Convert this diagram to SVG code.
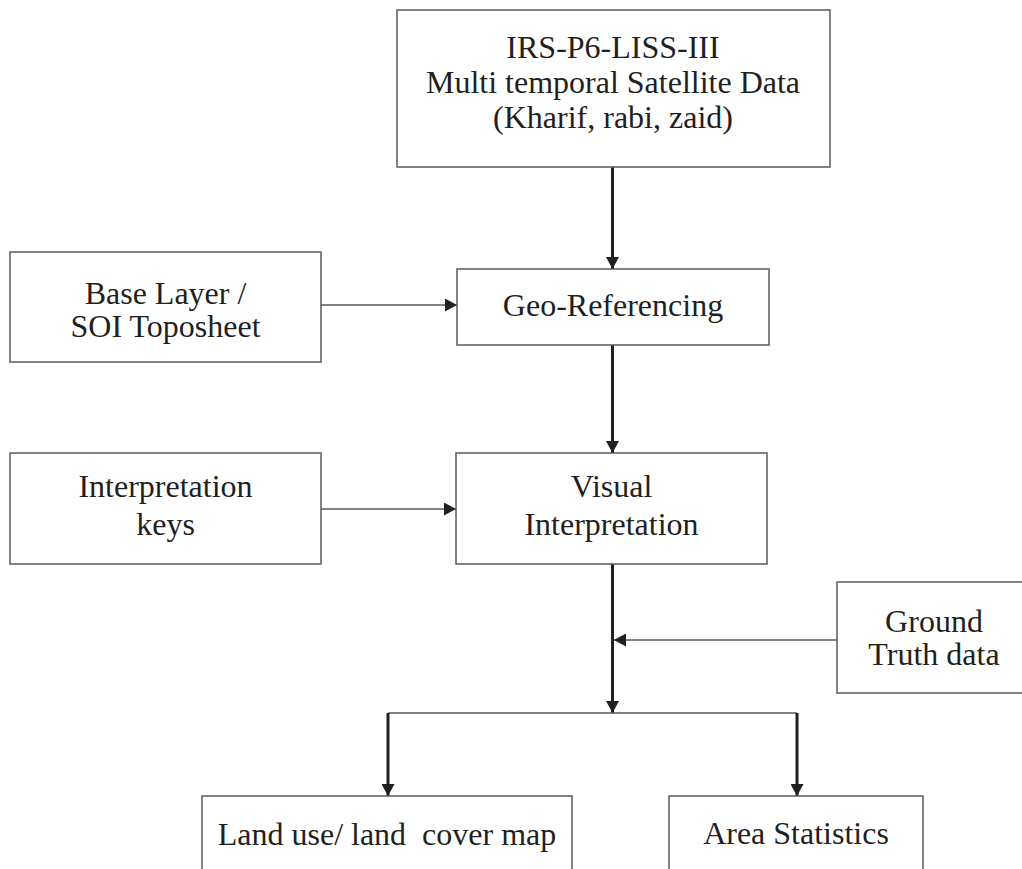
<svg xmlns="http://www.w3.org/2000/svg" width="1022" height="869" viewBox="0 0 1022 869">
<style>
.box{fill:#fff;stroke:#5a5a5a;stroke-width:1.5}
.t{font-family:"Liberation Serif","Times New Roman",serif;font-size:32px;fill:#231f20;text-anchor:middle}
.thick{fill:none;stroke:#231f20;stroke-width:3}
.thin{fill:none;stroke:#5a5a5a;stroke-width:1.5}
</style>
<defs>
<marker id="ah" markerUnits="userSpaceOnUse" markerWidth="12" markerHeight="13" refX="12" refY="6.5" orient="auto">
<path d="M0,0 L12,6.5 L0,13 z" fill="#231f20"/>
</marker>
</defs>
<rect width="1022" height="869" fill="#fff"/>
<g id="connectors">
<path class="thick" d="M612.5,167 V269" marker-end="url(#ah)"/>
<path class="thin" d="M321,305 H457" marker-end="url(#ah)"/>
<path class="thick" d="M612.5,345 V453" marker-end="url(#ah)"/>
<path class="thin" d="M321,509 H456" marker-end="url(#ah)"/>
<path class="thick" d="M612.5,564 V713" marker-end="url(#ah)"/>
<path class="thin" d="M837,640 H614" marker-end="url(#ah)"/>
<path class="thin" d="M388,713 H797"/>
<path class="thick" d="M388,713 V796" marker-end="url(#ah)"/>
<path class="thick" d="M797,713 V796" marker-end="url(#ah)"/>
</g>
<g id="satellite">
<rect class="box" x="397" y="10" width="433" height="157"/>
<text class="t" x="613" y="58">IRS-P6-LISS-III</text>
<text class="t" x="613" y="93">Multi temporal Satellite Data</text>
<text class="t" x="613" y="128">(Kharif, rabi, zaid)</text>
</g>
<g id="baselayer">
<rect class="box" x="10" y="252" width="311" height="110"/>
<text class="t" x="165.5" y="304">Base Layer /</text>
<text class="t" x="165.5" y="337">SOI Toposheet</text>
</g>
<g id="georef">
<rect class="box" x="457" y="269" width="312" height="76"/>
<text class="t" x="613" y="316">Geo-Referencing</text>
</g>
<g id="keys">
<rect class="box" x="10" y="453" width="311" height="111"/>
<text class="t" x="165.5" y="497">Interpretation</text>
<text class="t" x="165.5" y="535">keys</text>
</g>
<g id="visual">
<rect class="box" x="456" y="453" width="311" height="111"/>
<text class="t" x="611.5" y="497">Visual</text>
<text class="t" x="611.5" y="535">Interpretation</text>
</g>
<g id="ground">
<rect class="box" x="837" y="582" width="190" height="111"/>
<text class="t" x="934" y="632">Ground</text>
<text class="t" x="934" y="665">Truth data</text>
</g>
<g id="landuse">
<rect class="box" x="202" y="796" width="370" height="90"/>
<text class="t" x="387" y="845" xml:space="preserve" style="white-space:pre">Land use/ land  cover map</text>
</g>
<g id="area">
<rect class="box" x="669" y="796" width="254" height="90"/>
<text class="t" x="796" y="844">Area Statistics</text>
</g>
</svg>
